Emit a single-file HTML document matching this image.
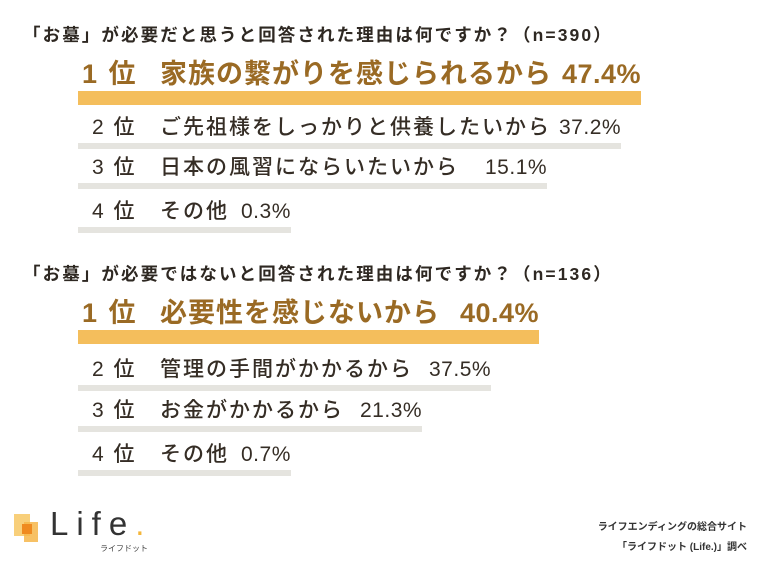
<!DOCTYPE html>
<html><head><meta charset="utf-8">
<style>
body{margin:0;width:765px;height:568px;background:#fff;position:relative;overflow:hidden;font-family:"Liberation Sans","Noto Sans CJK JP",sans-serif;}
.t{position:absolute;left:23px;font-size:17.5px;letter-spacing:2.1px;font-weight:bold;color:#2e2822;white-space:nowrap}
.row{position:absolute;left:78px;white-space:nowrap;display:inline-block}
.row .bar{position:absolute;left:0;right:0;}
.big{font-size:27px;letter-spacing:1px;line-height:30px;font-weight:bold;color:#9a6a24}
.big .bar{background:#f4be5c;height:14px;top:32px}
.sm{font-size:21px;letter-spacing:2px;line-height:24px;color:#352d25;font-weight:500}
.sm .bar{background:#e5e4df;height:6px;top:27px}
.rk{display:inline-block;width:82px;padding-left:14px;box-sizing:border-box;letter-spacing:2px}
.big .rk{padding-left:4px}
.v{letter-spacing:0.5px}
</style></head><body>
<div class="t" style="top:22px">「お墓」が必要だと思うと回答された理由は何ですか？（n=390）</div>
<div id="g1"></div>
<div class="t" style="top:261px">「お墓」が必要ではないと回答された理由は何ですか？（n=136）</div>
<div id="g2"></div>
<svg style="position:absolute;left:14px;top:514px" width="34" height="30">
<rect x="0" y="0" width="16" height="22" fill="#f8cf7a"/><rect x="10" y="8" width="14" height="20" fill="#f6b64a" opacity=".85"/><rect x="8" y="10" width="10" height="10" fill="#ef8a20"/></svg>
<div style="position:absolute;left:50px;top:505px;font-size:33px;letter-spacing:8px;color:#333">Life<span style="color:#f4b63a">.</span></div>
<div style="position:absolute;left:100px;top:543px;font-size:8px;color:#444">ライフドット</div>
<div style="position:absolute;right:18px;top:518px;font-size:10px;font-weight:bold;color:#333;text-align:right;line-height:20px">ライフエンディングの総合サイト<br>「ライフドット (Life.)」調べ</div>
<script>
const reasons1=["家族の繋がりを感じられるから","ご先祖様をしっかりと供養したいから","日本の風習にならいたいから","その他"];
const values1=[47.4,37.2,15.1,0.3];
const reasons2=["必要性を感じないから","管理の手間がかかるから","お金がかかるから","その他"];
const values2=[40.4,37.5,21.3,0.7];
function build(id,reasons,values,tops,gaps){
  const g=document.getElementById(id);
  reasons.forEach((r,i)=>{
    const d=document.createElement('div');
    d.className='row '+(i===0?'big':'sm');
    d.style.top=tops[i]+'px';
    
    
    d.innerHTML='<span class="rk">'+(i+1)+' 位</span><span>'+r+'</span><span class="v" style="margin-left:'+gaps[i]+'px">'+values[i].toFixed(1)+'%</span>';
    const b=document.createElement('div');
    b.className='bar';
    
    
    d.appendChild(b);
    g.appendChild(d);
  });
}
build('g1',reasons1,values1,[59,116,156,200],[10,8,26,12]);
build('g2',reasons2,values2,[298,358,399,443],[20,16,16,12]);
</script>
</body></html>
